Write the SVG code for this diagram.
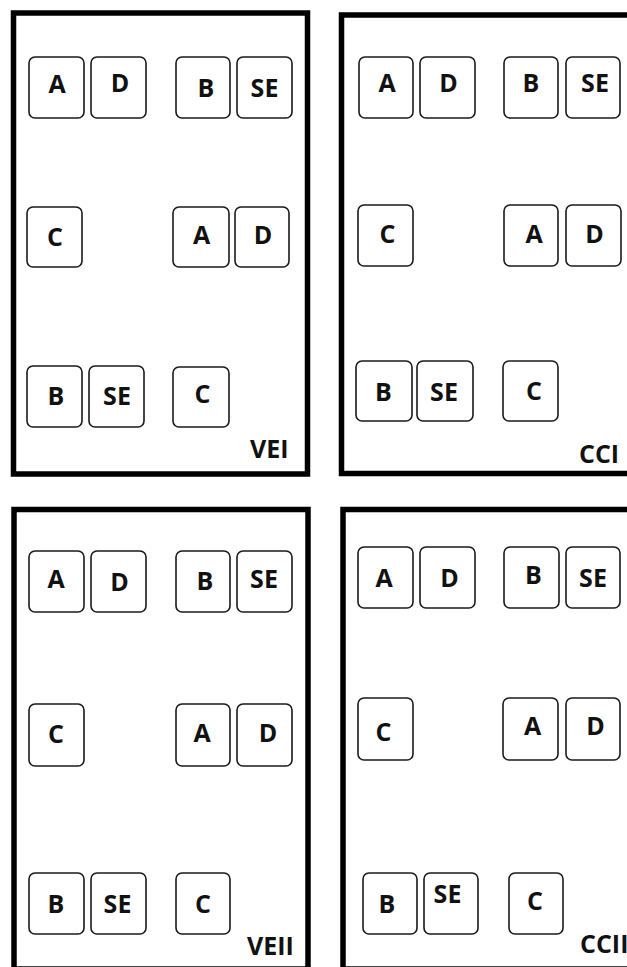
<svg xmlns="http://www.w3.org/2000/svg" width="627" height="967" viewBox="0 0 627 967">
<style>
.panel{fill:none;stroke:#000;stroke-width:5.5}
.box{fill:#fff;stroke:#1a1a1a;stroke-width:1.6}
.t{font-family:"Open Sans","Liberation Sans",sans-serif;font-weight:700;font-size:25px;fill:#111;text-anchor:middle}
.lbl{font-family:"Open Sans","Liberation Sans",sans-serif;font-weight:700;font-size:25px;fill:#111}
</style>
<rect width="627" height="967" fill="#fff"/>
<g id="panel-VEI">
<rect class="panel" x="13.5" y="13" width="294" height="461"/>
<g id="VEI-A1"><rect class="box" x="29" y="57" width="55" height="61" rx="6"/><text class="t" x="57" y="93">A</text></g>
<g id="VEI-D1"><rect class="box" x="91" y="57" width="55" height="61" rx="6"/><text class="t" x="120" y="92">D</text></g>
<g id="VEI-B1"><rect class="box" x="176" y="57" width="54" height="61" rx="6"/><text class="t" x="206" y="97">B</text></g>
<g id="VEI-SE1"><rect class="box" x="237" y="57" width="55" height="61" rx="6"/><text class="t" x="264.5" y="97">SE</text></g>
<g id="VEI-C1"><rect class="box" x="27" y="207" width="55" height="60" rx="6"/><text class="t" x="55" y="246">C</text></g>
<g id="VEI-A2"><rect class="box" x="173" y="207" width="56" height="60" rx="6"/><text class="t" x="201.5" y="244">A</text></g>
<g id="VEI-D2"><rect class="box" x="235" y="207" width="54" height="60" rx="6"/><text class="t" x="263" y="244">D</text></g>
<g id="VEI-B2"><rect class="box" x="27" y="366" width="55" height="61" rx="6"/><text class="t" x="56" y="405">B</text></g>
<g id="VEI-SE2"><rect class="box" x="89" y="366" width="55" height="61" rx="6"/><text class="t" x="117" y="405">SE</text></g>
<g id="VEI-C2"><rect class="box" x="173" y="367" width="56" height="60" rx="6"/><text class="t" x="202.5" y="403">C</text></g>
<text class="lbl" x="250" y="458">VEI</text>
</g>
<g id="panel-CCI">
<rect class="panel" x="341.5" y="15" width="400" height="458.5"/>
<g id="CCI-A1"><rect class="box" x="359" y="57" width="54" height="61" rx="6"/><text class="t" x="387" y="92">A</text></g>
<g id="CCI-D1"><rect class="box" x="420" y="57" width="55" height="61" rx="6"/><text class="t" x="448.5" y="92">D</text></g>
<g id="CCI-B1"><rect class="box" x="504" y="57" width="54" height="61" rx="6"/><text class="t" x="531" y="92">B</text></g>
<g id="CCI-SE1"><rect class="box" x="566" y="57" width="54" height="61" rx="6"/><text class="t" x="595" y="92">SE</text></g>
<g id="CCI-C1"><rect class="box" x="358" y="205" width="55" height="61" rx="6"/><text class="t" x="387.5" y="243">C</text></g>
<g id="CCI-A2"><rect class="box" x="504" y="205" width="54" height="61" rx="6"/><text class="t" x="534" y="243">A</text></g>
<g id="CCI-D2"><rect class="box" x="566" y="205" width="55" height="61" rx="6"/><text class="t" x="594.5" y="243">D</text></g>
<g id="CCI-B2"><rect class="box" x="356" y="361" width="56" height="60" rx="6"/><text class="t" x="383.5" y="401">B</text></g>
<g id="CCI-SE2"><rect class="box" x="417" y="361" width="56" height="60" rx="6"/><text class="t" x="444" y="401">SE</text></g>
<g id="CCI-C2"><rect class="box" x="503" y="361" width="55" height="60" rx="6"/><text class="t" x="534" y="400">C</text></g>
<text class="lbl" x="579" y="463">CCI</text>
</g>
<g id="panel-VEII">
<rect class="panel" x="14" y="509.5" width="294" height="459.5"/>
<g id="VEII-A1"><rect class="box" x="29" y="551" width="55" height="61" rx="6"/><text class="t" x="56" y="588">A</text></g>
<g id="VEII-D1"><rect class="box" x="91" y="551" width="55" height="61" rx="6"/><text class="t" x="119.5" y="591">D</text></g>
<g id="VEII-B1"><rect class="box" x="176" y="551" width="54" height="61" rx="6"/><text class="t" x="205" y="590">B</text></g>
<g id="VEII-SE1"><rect class="box" x="237" y="551" width="55" height="61" rx="6"/><text class="t" x="264" y="588">SE</text></g>
<g id="VEII-C1"><rect class="box" x="29" y="704" width="55" height="62" rx="6"/><text class="t" x="56" y="743">C</text></g>
<g id="VEII-A2"><rect class="box" x="176" y="704" width="54" height="62" rx="6"/><text class="t" x="202" y="742">A</text></g>
<g id="VEII-D2"><rect class="box" x="237" y="704" width="55" height="62" rx="6"/><text class="t" x="268" y="742">D</text></g>
<g id="VEII-B2"><rect class="box" x="29" y="873" width="55" height="61" rx="6"/><text class="t" x="56" y="913">B</text></g>
<g id="VEII-SE2"><rect class="box" x="91" y="873" width="55" height="61" rx="6"/><text class="t" x="117.5" y="913">SE</text></g>
<g id="VEII-C2"><rect class="box" x="176" y="873" width="54" height="61" rx="6"/><text class="t" x="203" y="913">C</text></g>
<text class="lbl" x="247" y="955">VEII</text>
</g>
<g id="panel-CCII">
<rect class="panel" x="343" y="509.5" width="400" height="459.5"/>
<g id="CCII-A1"><rect class="box" x="358" y="547" width="55" height="61" rx="6"/><text class="t" x="384" y="587">A</text></g>
<g id="CCII-D1"><rect class="box" x="420" y="547" width="55" height="61" rx="6"/><text class="t" x="449.5" y="587">D</text></g>
<g id="CCII-B1"><rect class="box" x="504" y="547" width="55" height="61" rx="6"/><text class="t" x="533.5" y="584">B</text></g>
<g id="CCII-SE1"><rect class="box" x="566" y="547" width="54" height="61" rx="6"/><text class="t" x="593" y="587">SE</text></g>
<g id="CCII-C1"><rect class="box" x="358" y="698" width="55" height="62" rx="6"/><text class="t" x="383.5" y="741">C</text></g>
<g id="CCII-A2"><rect class="box" x="503" y="698" width="55" height="62" rx="6"/><text class="t" x="532.5" y="735">A</text></g>
<g id="CCII-D2"><rect class="box" x="566" y="698" width="54" height="62" rx="6"/><text class="t" x="595.5" y="735">D</text></g>
<g id="CCII-B2"><rect class="box" x="363" y="873" width="54" height="61" rx="6"/><text class="t" x="387" y="913">B</text></g>
<g id="CCII-SE2"><rect class="box" x="424" y="873" width="54" height="61" rx="6"/><text class="t" x="447.5" y="903">SE</text></g>
<g id="CCII-C2"><rect class="box" x="509" y="873" width="54" height="61" rx="6"/><text class="t" x="535" y="910">C</text></g>
<text class="lbl" x="580" y="953">CCII</text>
</g>
</svg>
